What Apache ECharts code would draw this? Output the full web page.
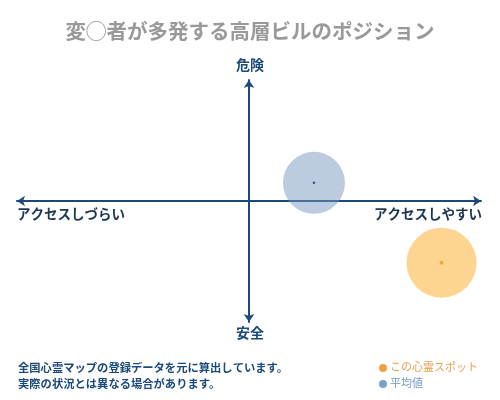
<!DOCTYPE html>
<html>
<head>
<meta charset="utf-8">
<script src="https://cdn.jsdelivr.net/npm/echarts@6/dist/echarts.min.js"></script>
<style>html,body{margin:0;padding:0;background:#fff;}#c{width:500px;height:400px;}</style>
</head>
<body>
<div id="c"></div>
<script>
var titleText = '変◯者が多発する高層ビルのポジション';
var axisTop = '危険';
var axisBottom = '安全';
var axisLeft = 'アクセスしづらい';
var axisRight = 'アクセスしやすい';
var noteLines = ['全国心霊マップの登録データを元に算出しています。', '実際の状況とは異なる場合があります。'];
var seriesNames = ['この心霊スポット', '平均値'];
var spotPoint = [8.3, -5.1];
var avgPoint = [2.8, 1.5];

var navy = '#1b4a7a';
var chart = echarts.init(document.getElementById('c'));
var font = '"Noto Sans CJK JP", sans-serif';
chart.setOption({
  animation: false,
  title: {
    text: titleText, left: 'center', top: 16,
    textStyle: { color: '#999', fontSize: 20.5, fontWeight: 'bold', fontFamily: font }
  },
  grid: { left: 17, right: 19, top: 80, bottom: 78 },
  xAxis: {
    type: 'value', min: -10, max: 10,
    axisLine: { onZero: true, lineStyle: { color: navy, width: 2 }, symbol: ['arrow', 'arrow'], symbolSize: [8, 8] },
    axisTick: { show: false }, axisLabel: { show: false }, splitLine: { show: false }
  },
  yAxis: {
    type: 'value', min: -10, max: 10,
    axisLine: { onZero: true, lineStyle: { color: navy, width: 2 }, symbol: ['arrow', 'arrow'], symbolSize: [8, 8] },
    axisTick: { show: false }, axisLabel: { show: false }, splitLine: { show: false }
  },
  series: [
    { name: seriesNames[1], type: 'scatter', data: [avgPoint], symbolSize: 62, silent: true,
      itemStyle: { color: 'rgba(120,150,190,0.62)' }, z: 2 },
    { name: seriesNames[0], type: 'scatter', data: [spotPoint], symbolSize: 70, silent: true,
      itemStyle: { color: 'rgba(253,185,70,0.75)' }, z: 2 },
    { type: 'scatter', data: [avgPoint], symbolSize: 2.5, silent: true, itemStyle: { color: '#1b2f4a' }, z: 3 },
    { type: 'scatter', data: [spotPoint], symbolSize: 4, silent: true, itemStyle: { color: '#f0a020' }, z: 3 }
  ],
  graphic: [
    { type: 'text', left: 'center', top: 58, style: { text: axisTop, fill: navy, font: 'bold 14px ' + font } },
    { type: 'text', left: 'center', top: 326, style: { text: axisBottom, fill: navy, font: 'bold 14px ' + font } },
    { type: 'text', left: 17, top: 207, style: { text: axisLeft, fill: '#1e3550', font: 'bold 13.5px ' + font } },
    { type: 'text', right: 18, top: 207, style: { text: axisRight, fill: '#1e3550', font: 'bold 13.5px ' + font } },
    { type: 'text', left: 18, top: 362, style: { text: noteLines[0], fill: navy, font: 'bold 11.3px ' + font } },
    { type: 'text', left: 18, top: 378, style: { text: noteLines[1], fill: navy, font: 'bold 11.3px ' + font } },
    { type: 'circle', shape: { cx: 383, cy: 368, r: 4 }, style: { fill: '#f0a040' } },
    { type: 'text', left: 390, top: 361, style: { text: seriesNames[0], fill: '#e8a050', font: '11px ' + font } },
    { type: 'circle', shape: { cx: 383, cy: 384, r: 4 }, style: { fill: '#7aa0c8' } },
    { type: 'text', left: 390, top: 377, style: { text: seriesNames[1], fill: '#7a9cc0', font: '11px ' + font } }
  ]
});
</script>
</body>
</html>
